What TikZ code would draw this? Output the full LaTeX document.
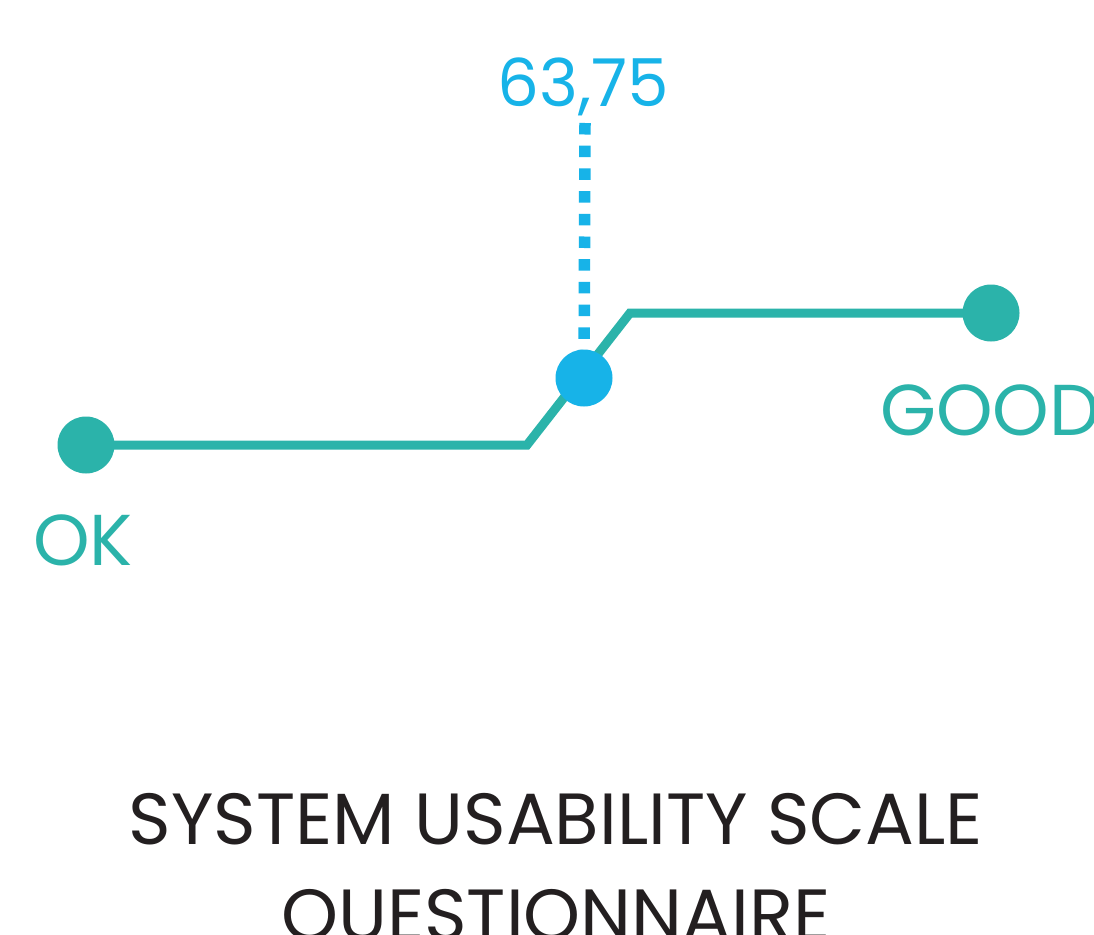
\documentclass[tikz,border=0pt]{standalone}
\usepackage{fontspec}
\setmainfont{Poppins}
\usetikzlibrary{backgrounds}
\definecolor{teal}{HTML}{2BB3AA}
\definecolor{skyb}{HTML}{17B3E8}
\definecolor{ink}{HTML}{231F20}
\begin{document}
\begin{tikzpicture}[x=1pt,y=-1pt,
  dot/.style={circle,inner sep=0pt,minimum size=57pt},
  lbl/.style={inner sep=0pt,font=\fontsize{66}{66}\selectfont},
  endlbl/.style={inner sep=0pt,text=teal,font=\fontsize{72}{72}\selectfont},
  title/.style={inner sep=0pt,text=ink,font=\fontsize{72.5}{72.5}\selectfont}]
\useasboundingbox (0,0) rectangle (1094,934);
\clip (0,0) rectangle (1094,934);
\node[dot,fill=teal] (ok) at (86,445) {};
\node[dot,fill=teal] (good) at (991,313) {};
\node[dot,fill=skyb] (val) at (584,378) {};
\coordinate (k1) at (527,445);
\coordinate (k2) at (630,313);
\coordinate (top) at (585,123);
\begin{pgfonlayer}{background}
\fill[white] (0,0) rectangle (1094,934);
\draw[teal,line width=9pt,line join=miter] (ok.center) -- (k1) -- (k2) -- (good.center);
\draw[skyb,line width=11.5pt,dash pattern=on 11.5pt off 11.2pt] (top) -- (val.center);
\end{pgfonlayer}
\node[lbl,text=skyb,anchor=base] (num) at (583,106) {63,75};
\node[endlbl,anchor=base west] (oklbl) at (33,565) {OK};
\node[endlbl,anchor=base west] (goodlbl) at (880,435) {GOOD};
\node[title,anchor=base] (t1) at (556,844) {SYSTEM USABILITY SCALE};
\node[title,anchor=base] (t2) at (556,940) {QUESTIONNAIRE};
\end{tikzpicture}
\end{document}
